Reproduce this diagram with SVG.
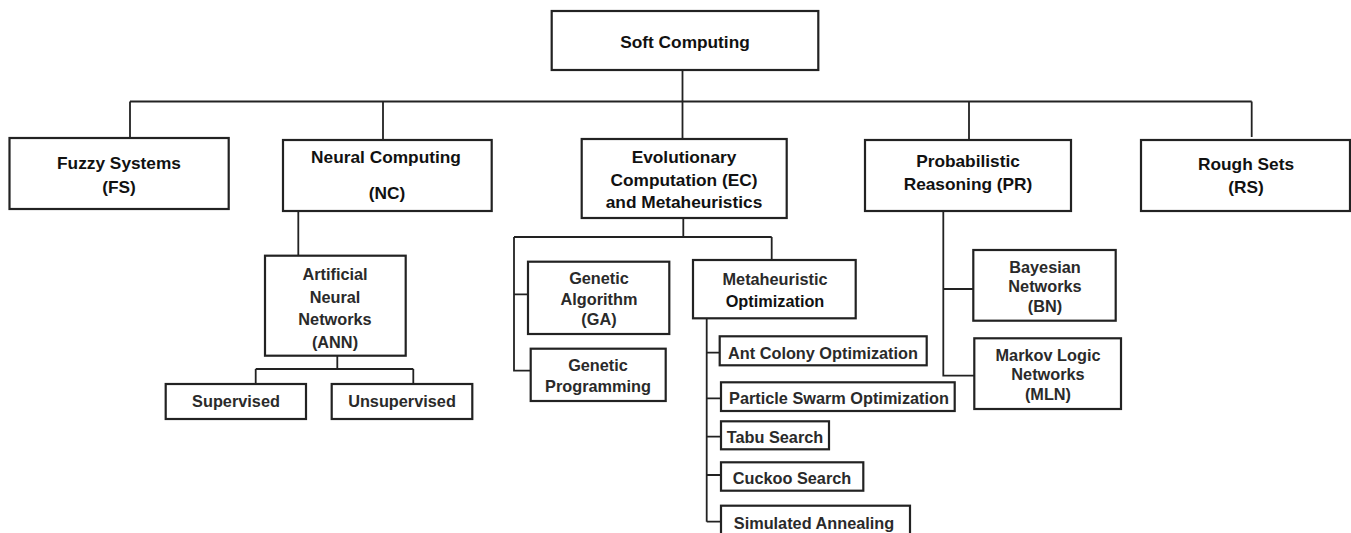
<svg xmlns="http://www.w3.org/2000/svg" width="1351" height="533" viewBox="0 0 1351 533">
<style>
.box{fill:#fff;stroke:#222;stroke-width:2.2}
.ln{fill:none;stroke:#222;stroke-width:1.8}
text{font-family:"Liberation Sans",Arial,sans-serif;font-weight:bold;text-anchor:middle}
.t1{font-size:17.3px;fill:#111}
.t2{font-size:16.3px;fill:#2a2a2a}
</style>
<rect width="1351" height="533" fill="#fff"/>
<g id="connectors">
<path class="ln" d="M682.5 70V139M130 101.5H1251.7M130 101.5V138M383 101.5V140M969 101.5V140M1251.7 101.5V137"/>
<path class="ln" d="M298.3 211V256M337.3 356V369M255.7 369H413.3M255.7 369V384M413.3 369V384"/>
<path class="ln" d="M683.3 217V237M514 237H771.7M771.7 237V260M514 237V370.7H530.7M514 294.3H528"/>
<path class="ln" d="M706.7 318.3V521.7M706.7 352.7H719.7M706.7 398.3H721M706.7 436.7H721M706.7 475H721M706.7 521.7H721"/>
<path class="ln" d="M943.3 211V375.7H974.3M943.3 289H973.3"/>
</g>
<g id="soft-computing"><rect class="box" x="551.7" y="11" width="266.6" height="59"/><text class="t1" x="685" y="48">Soft Computing</text></g>
<g id="fuzzy-systems"><rect class="box" x="9.5" y="138" width="219.2" height="71"/><text class="t1" x="119" y="169">Fuzzy Systems</text><text class="t1" x="119" y="193">(FS)</text></g>
<g id="neural-computing"><rect class="box" x="283" y="140" width="208.7" height="71"/><text class="t1" x="386" y="163">Neural Computing</text><text class="t1" x="387" y="199">(NC)</text></g>
<g id="evolutionary-computation"><rect class="box" x="581.7" y="139" width="205" height="79"/><text class="t1" x="684" y="163">Evolutionary</text><text class="t1" x="684" y="186">Computation (EC)</text><text class="t1" x="684" y="208">and Metaheuristics</text></g>
<g id="probabilistic-reasoning"><rect class="box" x="865" y="140" width="206" height="71"/><text class="t1" x="968" y="167">Probabilistic</text><text class="t1" x="968" y="190">Reasoning (PR)</text></g>
<g id="rough-sets"><rect class="box" x="1141" y="140" width="209" height="71"/><text class="t1" x="1246" y="170">Rough Sets</text><text class="t1" x="1246" y="193">(RS)</text></g>
<g id="ann"><rect class="box" x="265" y="255.7" width="140.7" height="100"/><text class="t2" x="335" y="280">Artificial</text><text class="t2" x="335" y="302.5">Neural</text><text class="t2" x="335" y="325">Networks</text><text class="t2" x="335" y="347.5">(ANN)</text></g>
<g id="supervised"><rect class="box" x="165.7" y="384" width="140.3" height="35"/><text class="t2" x="236" y="406.5">Supervised</text></g>
<g id="unsupervised"><rect class="box" x="331.7" y="384" width="140.6" height="35"/><text class="t2" x="402" y="406.5">Unsupervised</text></g>
<g id="genetic-algorithm"><rect class="box" x="528" y="261.7" width="141.3" height="72.3"/><text class="t2" x="599" y="284">Genetic</text><text class="t2" x="599" y="305">Algorithm</text><text class="t2" x="599" y="325">(GA)</text></g>
<g id="genetic-programming"><rect class="box" x="530.7" y="348.7" width="135" height="52.3"/><text class="t2" x="598" y="371">Genetic</text><text class="t2" x="598" y="391.5">Programming</text></g>
<g id="metaheuristic-optimization"><rect class="box" x="693" y="260" width="162.7" height="58.3"/><text class="t2" x="775" y="285">Metaheuristic</text><text class="t1" x="775" y="306.5" style="font-size:16.3px">Optimization</text></g>
<g id="ant-colony"><rect class="box" x="719.7" y="336.3" width="207" height="29"/><text class="t2" x="823" y="358.5">Ant Colony Optimization</text></g>
<g id="particle-swarm"><rect class="box" x="721" y="382.3" width="233.7" height="28.7"/><text class="t2" x="839" y="404">Particle Swarm Optimization</text></g>
<g id="tabu-search"><rect class="box" x="721" y="421.3" width="108" height="28"/><text class="t2" x="775" y="443">Tabu Search</text></g>
<g id="cuckoo-search"><rect class="box" x="721" y="462.3" width="142.3" height="28.4"/><text class="t2" x="792" y="484">Cuckoo Search</text></g>
<g id="simulated-annealing"><rect class="box" x="721" y="505.7" width="189" height="40"/><text class="t2" x="814" y="528.5">Simulated Annealing</text></g>
<g id="bayesian-networks"><rect class="box" x="973.3" y="250" width="142.4" height="70.7"/><text class="t2" x="1045" y="272.7">Bayesian</text><text class="t2" x="1045" y="292">Networks</text><text class="t2" x="1045" y="312">(BN)</text></g>
<g id="markov-logic-networks"><rect class="box" x="974.3" y="338.3" width="146.7" height="70.7"/><text class="t2" x="1048" y="361">Markov Logic</text><text class="t2" x="1048" y="380.3">Networks</text><text class="t2" x="1048" y="400">(MLN)</text></g>
</svg>
